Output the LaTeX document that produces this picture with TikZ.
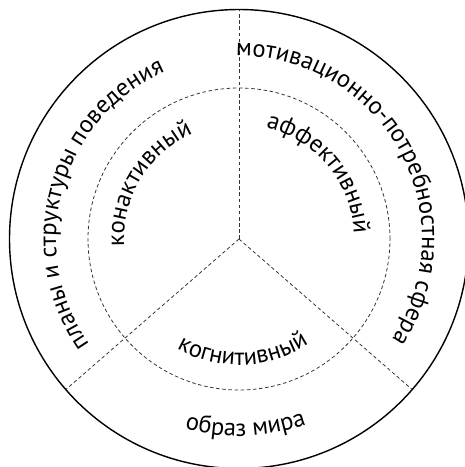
\documentclass[tikz,border=0pt]{standalone}
\usepackage{fontspec}
\setmainfont{PT Sans}
\usetikzlibrary{decorations.text}
\newcommand{\ringfont}{\fontsize{14}{16}\selectfont}

\begin{document}
\begin{tikzpicture}[
    x=0.02cm, y=0.02cm,
    rim/.style={draw=black, line width=0.8pt},
    divider/.style={draw=black!80, line width=0.45pt, dash pattern=on 2pt off 1.5pt},
    cwtext/.style={decorate, decoration={text along path, text align=center,
        text={|\ringfont|#1}}},
    ccwtext/.style={cwtext={#1}}
  ]
  \useasboundingbox (-239,-228) rectangle (225,239);
  \coordinate (c) at (0,0);
  \coordinate (up) at (90:229.5);
  \coordinate (loleft) at (221:229.5);
  \coordinate (loright) at (319:229.5);

  \draw[rim] (c) circle[radius=229.5];
  \draw[divider] (c) circle[radius=151];
  \draw[divider] (c) -- (up);
  \draw[divider] (c) -- (loleft);
  \draw[divider] (c) -- (loright);

  % outer ring
  \path[cwtext={планы и структуры поведения}]
    (254.5:183) arc[start angle=254.5, end angle=74.5, radius=183];
  \path[cwtext={мотивационно-потребностная сфера}]
    (118.75:183) arc[start angle=118.75, end angle=-61.25, radius=183];
  \path[ccwtext={образ мира}]
    (182:197) arc[start angle=182, end angle=362, radius=197];

  % inner ring
  \path[cwtext={конактивный}]
    (238.5:115) arc[start angle=238.5, end angle=58.5, radius=115];
  \path[cwtext={аффективный}]
    (129.5:115) arc[start angle=129.5, end angle=-50.5, radius=115];
  \path[ccwtext={когнитивный}]
    (182:126) arc[start angle=182, end angle=362, radius=126];
\end{tikzpicture}
\end{document}
